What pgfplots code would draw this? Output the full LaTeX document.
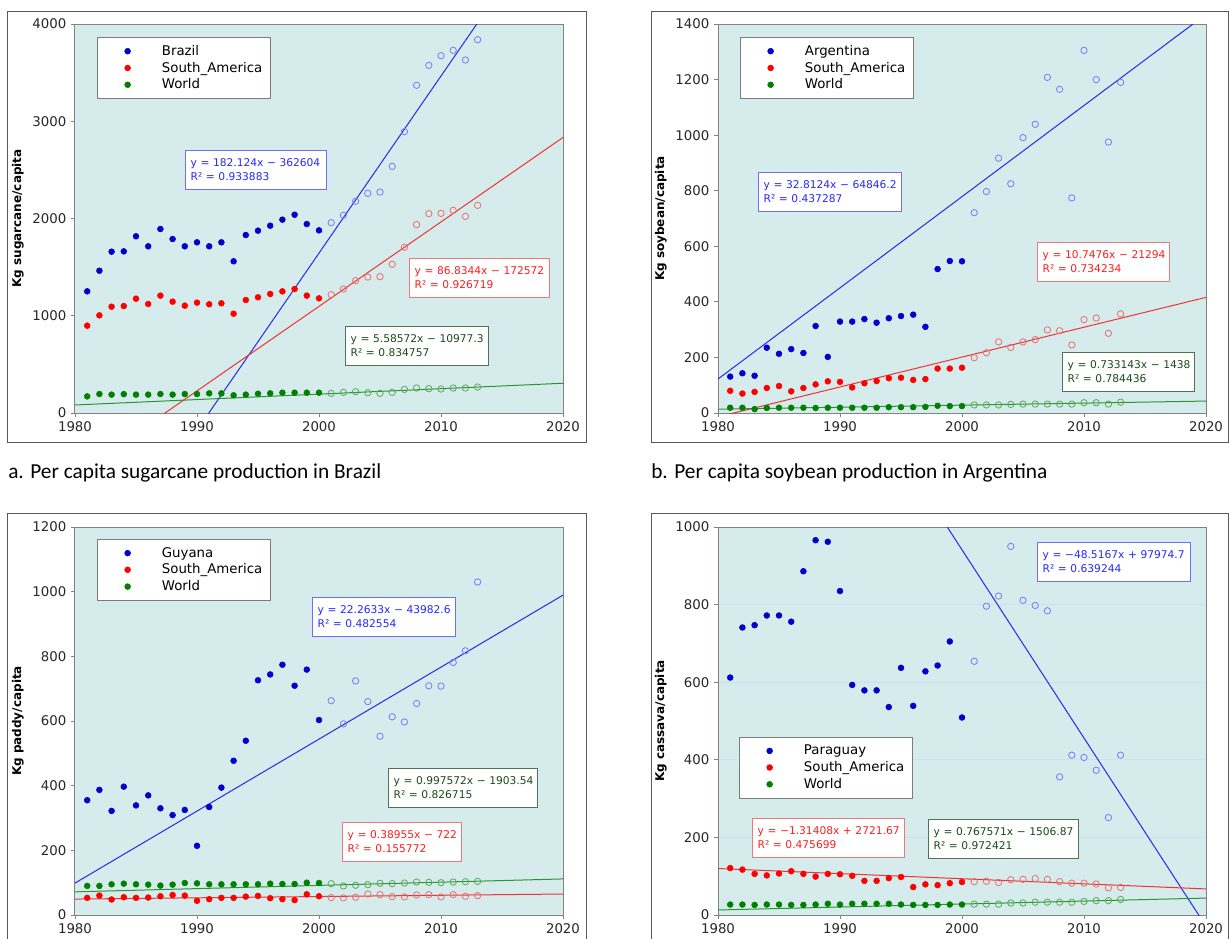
\documentclass[border=0pt]{standalone}
\usepackage{pgfplots}
\pgfplotsset{compat=1.18}
\usepackage{pgfplotstable}
\usepackage{fontspec}
\setmainfont{DejaVu Sans}
\newfontfamily\capfont{Carlito}

\definecolor{bgc}{RGB}{214,236,236}
\definecolor{bluef}{RGB}{0,0,204}
\definecolor{blueh}{RGB}{120,120,255}
\definecolor{bluel}{RGB}{40,40,235}
\definecolor{bluet}{RGB}{40,40,255}
\definecolor{blueb}{RGB}{110,110,250}
\definecolor{redf}{RGB}{255,0,0}
\definecolor{redh}{RGB}{235,110,110}
\definecolor{redl}{RGB}{240,50,50}
\definecolor{redt}{RGB}{255,30,30}
\definecolor{redb}{RGB}{240,120,120}
\definecolor{greenf}{RGB}{0,128,0}
\definecolor{greenh}{RGB}{90,170,90}
\definecolor{greenl}{RGB}{40,150,50}
\definecolor{greent}{RGB}{25,75,25}
\definecolor{greenb}{RGB}{80,115,80}
\definecolor{axc}{RGB}{130,130,130}
\definecolor{tickc}{RGB}{40,40,40}
\definecolor{framec}{RGB}{90,90,90}
\definecolor{gridc}{RGB}{200,226,244}

\pgfplotstableread{
yr c s w
1981 1251 898 171
1982 1463 1004 195
1983 1659 1093 189
1984 1662 1100 194
1985 1817 1176 189
1986 1714 1121 189
1987 1892 1207 195
1988 1789 1145 189
1989 1714 1104 195
1990 1755 1135 195
1991 1714 1118 202
1992 1755 1128 202
1993 1560 1021 182
1994 1830 1162 189
1995 1875 1190 198
1996 1926 1224 202
1997 1988 1251 209
1998 2039 1275 209
1999 1943 1207 209
2000 1878 1179 209
2001 1957 1217 202
2002 2033 1275 212
2003 2177 1361 219
2004 2259 1398 209
2005 2272 1402 202
2006 2536 1529 212
2007 2893 1704 243
2008 3370 1937 257
2009 3575 2050 250
2010 3674 2053 247
2011 3729 2084 257
2012 3630 2022 257
2013 3839 2135 267
}\tA

\pgfplotstableread{
yr c s w
1981 131 80 19
1982 143 70 19
1983 134 76 14
1984 235 90 18
1985 213 97 19
1986 230 78 19
1987 216 90 19
1988 313 103 18
1989 202 114 19
1990 329 112 19
1991 329 92 19
1992 338 107 19
1993 325 115 19
1994 341 125 21
1995 349 127 21
1996 354 119 21
1997 310 122 22
1998 518 160 26
1999 547 160 25
2000 546 163 25
2001 721 199 29
2002 797 217 29
2003 917 256 29
2004 825 236 31
2005 991 256 32
2006 1039 264 32
2007 1208 299 32
2008 1165 296 32
2009 774 245 32
2010 1305 336 37
2011 1200 342 37
2012 975 287 32
2013 1190 357 39
}\tB

\pgfplotstableread{
yr c s w
1981 355 53 90
1982 387 60 90
1983 322 48 95
1984 397 55 97
1985 339 53 95
1986 370 54 94
1987 330 58 91
1988 309 62 94
1989 325 60 99
1990 214 44 98
1991 334 49 95
1992 394 53 95
1993 477 53 95
1994 539 57 95
1995 726 59 95
1996 744 52 97
1997 774 49 96
1998 709 46 96
1999 759 64 100
2000 603 58 99
2001 663 54 97
2002 591 53 90
2003 724 55 92
2004 660 65 94
2005 553 63 98
2006 613 57 97
2007 597 56 99
2008 654 62 102
2009 709 63 101
2010 708 56 100
2011 781 63 102
2012 817 58 103
2013 1030 60 104
}\tC

\pgfplotstableread{
yr c s w
1981 612 121 27
1982 741 117 27
1983 747 106 26
1984 772 102 27
1985 772 107 27
1986 756 113 26
1987 886 106 26
1988 966 99 27
1989 962 106 29
1990 835 105 27
1991 593 101 29
1992 579 88 29
1993 579 88 29
1994 536 95 29
1995 637 98 27
1996 539 72 26
1997 628 79 26
1998 643 77 26
1999 705 82 27
2000 509 85 27
2001 654 86 28
2002 796 87 28
2003 822 84 28
2004 950 91 31
2005 811 92 31
2006 798 94 33
2007 784 92 33
2008 356 86 33
2009 412 82 33
2010 406 82 35
2011 373 80 37
2012 251 70 37
2013 412 71 40
}\tD

\pgfplotsset{
 panel/.style={
  scale only axis, width=366pt, height=291.75pt,
  xmin=1980, xmax=2020, xtick={1980,1990,2000,2010,2020}, ymin=0,
  axis background/.style={fill=bgc},
  axis line style={draw=axc, line width=0.75pt},
  tick style={draw=axc, line width=0.6pt},
  tick align=outside, xtick pos=left, ytick pos=left,
  major tick length=3pt,
  tick label style={font=\fontsize{10}{12}\selectfont, text=tickc},
  /pgf/number format/assume math mode=true,
  /pgf/number format/1000 sep={},
  scaled ticks=false,
  every axis y label/.style={at={(axis description cs:-0.117,0.5)}, rotate=90, anchor=center, font=\bfseries\fontsize{9}{11}\selectfont, text=black},
  legend cell align=left,
  legend style={anchor=north west, draw=framec!80, fill=white, font=\fontsize{10}{12}\selectfont,
    inner xsep=3.6pt, inner ysep=4.9pt, row sep=1.5pt,
    nodes={inner ysep=1pt},
    /tikz/every odd column/.append style={column sep=7.5pt}},
 },
 filled/.style={only marks, mark=*, mark size=2.2pt, color=#1, restrict x to domain=1980:2000.2,
   legend image code/.code={\path (0pt,0pt) (35pt,0pt); \draw[##1] plot coordinates {(19pt,0pt)};}},
 hollow/.style={only marks, mark=o, mark size=2.4pt, color=#1, mark options={line width=0.6pt}, restrict x to domain=2000.5:2020, forget plot},
 trend/.style={color=#1, line width=0.75pt, forget plot},
}

\tikzset{eqbox/.style 2 args={draw=#1, text=#2, fill=white, anchor=north west, minimum height=29pt, inner xsep=4pt, inner ysep=0pt, align=left, line width=0.6pt, font=\fontsize{8}{10.5}\selectfont}}

\begin{document}
\begin{tikzpicture}
\begin{scope}[x=0.75pt,y=-0.75pt]
\useasboundingbox (0,0) rectangle (1229,939);
\fill[white] (0,0) rectangle (1229,939);
\draw[framec, line width=0.75pt] (7,11) rectangle (586,442);
\draw[framec, line width=0.75pt] (651,11) rectangle (1228,442);
\draw[framec, line width=0.75pt] (7,513) rectangle (586,950);
\draw[framec, line width=0.75pt] (651,513) rectangle (1228,950);
\node[anchor=west, inner sep=0pt, font=\capfont\fontsize{16}{19}\selectfont] at (8,473) {a. Per capita sugarcane production in Brazil};
\node[anchor=west, inner sep=0pt, font=\capfont\fontsize{16}{19}\selectfont] at (651,473) {b. Per capita soybean production in Argentina};
\end{scope}

% panel a
\begin{axis}[panel, at={(56.25pt,-309.75pt)}, anchor=south west, ymax=4000, ytick={0,1000,2000,3000,4000},
  ylabel={Kg sugarcane/capita}, legend style={at={(0.045,0.9666)}}]
\addplot[trend=bluel] coordinates {(1980,-1998.5) (2020,5286.5)};
\addplot[trend=redl] coordinates {(1980,-640.9) (2020,2833.5)};
\addplot[trend=greenl] coordinates {(1980,82.4) (2020,305.9)};
\addplot[filled=bluef] table[x=yr,y=c]{\tA};
\addlegendentry{Brazil}
\addplot[filled=redf] table[x=yr,y=s]{\tA};
\addlegendentry{South\_America}
\addplot[filled=greenf] table[x=yr,y=w]{\tA};
\addlegendentry{World}
\addplot[hollow=blueh] table[x=yr,y=c]{\tA};
\addplot[hollow=redh] table[x=yr,y=s]{\tA};
\addplot[hollow=greenh] table[x=yr,y=w]{\tA};
\end{axis}

% panel b
\begin{axis}[panel, at={(538.5pt,-309.75pt)}, anchor=south west, ymax=1400, ytick={0,200,...,1400},
  ylabel={Kg soybean/capita}, legend style={at={(0.045,0.9666)}}]
\addplot[trend=bluel] coordinates {(1980,122.35) (2020,1434.85)};
\addplot[trend=redl] coordinates {(1980,-13.8) (2020,416.2)};
\addplot[trend=greenl] coordinates {(1980,13.62) (2020,42.95)};
\addplot[filled=bluef] table[x=yr,y=c]{\tB};
\addlegendentry{Argentina}
\addplot[filled=redf] table[x=yr,y=s]{\tB};
\addlegendentry{South\_America}
\addplot[filled=greenf] table[x=yr,y=w]{\tB};
\addlegendentry{World}
\addplot[hollow=blueh] table[x=yr,y=c]{\tB};
\addplot[hollow=redh] table[x=yr,y=s]{\tB};
\addplot[hollow=greenh] table[x=yr,y=w]{\tB};
\end{axis}

% panel c
\begin{axis}[panel, height=291pt, at={(56.25pt,-686.25pt)}, anchor=south west, ymax=1200, ytick={0,200,...,1200},
  ylabel={Kg paddy/capita}, legend style={at={(0.045,0.969)}}]
\addplot[trend=bluel] coordinates {(1980,98.73) (2020,989.27)};
\addplot[trend=redl] coordinates {(1980,49.31) (2020,64.89)};
\addplot[trend=greenl] coordinates {(1980,71.65) (2020,111.56)};
\addplot[filled=bluef] table[x=yr,y=c]{\tC};
\addlegendentry{Guyana}
\addplot[filled=redf] table[x=yr,y=s]{\tC};
\addlegendentry{South\_America}
\addplot[filled=greenf] table[x=yr,y=w]{\tC};
\addlegendentry{World}
\addplot[hollow=blueh] table[x=yr,y=c]{\tC};
\addplot[hollow=redh] table[x=yr,y=s]{\tC};
\addplot[hollow=greenh] table[x=yr,y=w]{\tC};
\end{axis}

% panel d
\begin{axis}[panel, height=291pt, at={(538.5pt,-686.25pt)}, anchor=south west, ymax=1000, ytick={0,200,...,1000},
  ymajorgrids, major grid style={draw=gridc, line width=0.75pt},
  ylabel={Kg cassava/capita}, legend style={at={(0.043,0.459)}}]
\addplot[trend=bluel] coordinates {(1980,1911.6) (2020,-29.03)};
\addplot[trend=redl] coordinates {(1980,119.79) (2020,67.23)};
\addplot[trend=greenl] coordinates {(1980,12.92) (2020,43.62)};
\addplot[filled=bluef] table[x=yr,y=c]{\tD};
\addlegendentry{Paraguay}
\addplot[filled=redf] table[x=yr,y=s]{\tD};
\addlegendentry{South\_America}
\addplot[filled=greenf] table[x=yr,y=w]{\tD};
\addlegendentry{World}
\addplot[hollow=blueh] table[x=yr,y=c]{\tD};
\addplot[hollow=redh] table[x=yr,y=s]{\tD};
\addplot[hollow=greenh] table[x=yr,y=w]{\tD};
\end{axis}

\begin{scope}[x=0.75pt,y=-0.75pt]
\node[eqbox={blueb}{bluet}, text width=97.75pt] at (185,150) {\mbox{y = 182.124x − 362604}\\\mbox{R² = 0.933883}};
\node[eqbox={redb}{redt}, text width=97pt] at (409,258) {\mbox{y = 86.8344x − 172572}\\\mbox{R² = 0.926719}};
\node[eqbox={greenb}{greent}, text width=99.25pt] at (345,326) {\mbox{y = 5.58572x − 10977.3}\\\mbox{R² = 0.834757}};

\node[eqbox={blueb}{bluet}, text width=99.25pt] at (758,172) {\mbox{y = 32.8124x − 64846.2}\\\mbox{R² = 0.437287}};
\node[eqbox={redb}{redt}, text width=91pt] at (1037,242) {\mbox{y = 10.7476x − 21294}\\\mbox{R² = 0.734234}};
\node[eqbox={greenb}{greent}, text width=91pt] at (1062,352) {\mbox{y = 0.733143x − 1438}\\\mbox{R² = 0.784436}};

\node[eqbox={blueb}{bluet}, text width=99.25pt] at (312,597) {\mbox{y = 22.2633x − 43982.6}\\\mbox{R² = 0.482554}};
\node[eqbox={greenb}{greent}, text width=103.75pt] at (388,768) {\mbox{y = 0.997572x − 1903.54}\\\mbox{R² = 0.826715}};
\node[eqbox={redb}{redt}, text width=81.25pt] at (342,822) {\mbox{y = 0.38955x − 722}\\\mbox{R² = 0.155772}};

\node[eqbox={blueb}{bluet}, text width=106.75pt] at (1037,542) {\mbox{y = −48.5167x + 97974.7}\\\mbox{R² = 0.639244}};
\node[eqbox={redb}{redt}, text width=106pt] at (752,818) {\mbox{y = −1.31408x + 2721.67}\\\mbox{R² = 0.475699}};
\node[eqbox={greenb}{greent}, text width=104.5pt] at (928,819) {\mbox{y = 0.767571x − 1506.87}\\\mbox{R² = 0.972421}};
\end{scope}
\end{tikzpicture}
\end{document}
